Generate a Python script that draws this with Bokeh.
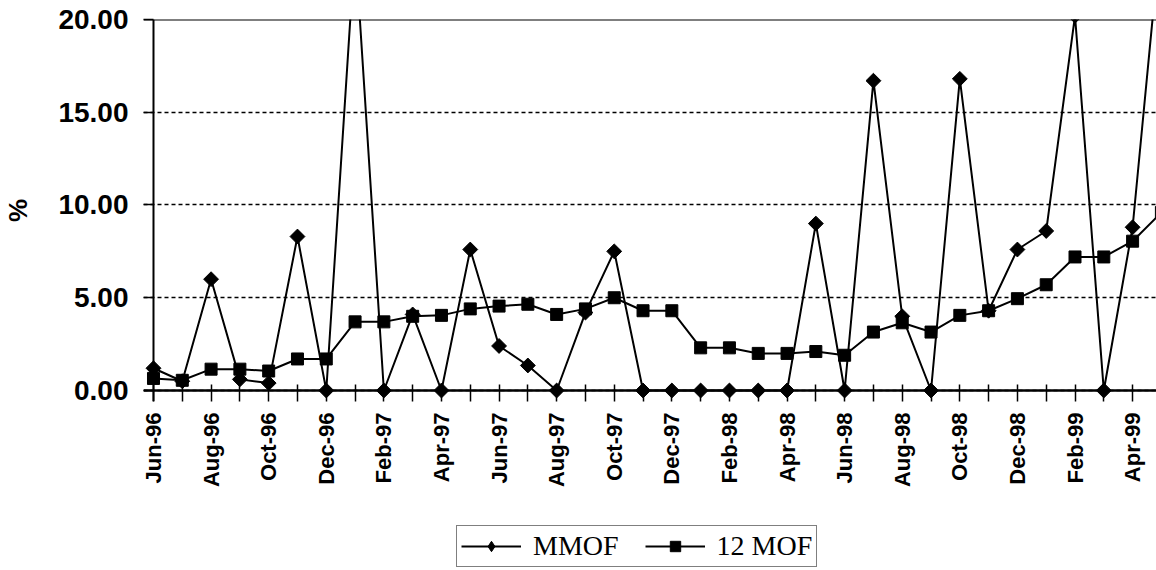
import numpy as np
from bokeh.plotting import figure
from bokeh.layouts import column
from bokeh.models import Range1d, FixedTicker, Span, Legend, LegendItem, PrintfTickFormatter
from bokeh.embed import file_html
from bokeh.resources import INLINE

months = ["Jun-96", "Jul-96", "Aug-96", "Sep-96", "Oct-96", "Nov-96", "Dec-96",
          "Jan-97", "Feb-97", "Mar-97", "Apr-97", "May-97", "Jun-97", "Jul-97",
          "Aug-97", "Sep-97", "Oct-97", "Nov-97", "Dec-97", "Jan-98", "Feb-98",
          "Mar-98", "Apr-98", "May-98", "Jun-98", "Jul-98", "Aug-98", "Sep-98",
          "Oct-98", "Nov-98", "Dec-98", "Jan-99", "Feb-99", "Mar-99", "Apr-99",
          "May-99"]

mmof = [1.2, 0.5, 6.0, 0.6, 0.4, 8.3, 0.0, 24.0, 0.0, 4.1, 0.0, 7.6,
        2.4, 1.35, 0.0, 4.2, 7.5, 0.0, 0.0, 0.0, 0.0, 0.0, 0.0, 9.0,
        0.0, 16.7, 4.0, 0.0, 16.8, 4.3, 7.6, 8.6, 20.2, 0.0, 8.8, 25.0]

mof12 = [0.65, 0.55, 1.15, 1.15, 1.05, 1.7, 1.7, 3.7, 3.7, 4.0, 4.05, 4.4,
         4.55, 4.65, 4.1, 4.4, 5.0, 4.3, 4.3, 2.3, 2.3, 2.0, 2.0, 2.1,
         1.9, 3.15, 3.65, 3.15, 4.05, 4.3, 4.95, 5.7, 7.2, 7.2, 8.05, 9.6]

series_names = ["MMOF", "12 MOF"]
y_ticks = [0, 5, 10, 15, 20]

x = list(range(len(months)))

# ---------------- main chart ----------------
p = figure(width=1156, height=500, output_backend="svg", toolbar_location=None,
           x_range=Range1d(-0.347, 34.83), y_range=Range1d(-0.593, 20),
           min_border_left=143, min_border_right=0, min_border_top=19,
           min_border_bottom=99)
p.outline_line_color = None
p.background_fill_color = "white"
p.border_fill_color = "white"

p.xgrid.visible = False
p.ygrid.grid_line_color = "black"
p.ygrid.grid_line_dash = "4 3"
p.ygrid.grid_line_width = 1.5


def draw_series(fig, legend_mode=False):
    a = fig.line(x, mmof, line_color="black", line_width=2)
    if legend_mode:
        b = fig.scatter(x, mmof, marker="diamond", size=12,
                        fill_color="black", line_color="black")
    else:
        b = fig.scatter(x, mmof, marker="square", angle=np.pi / 4, size=10.5,
                        fill_color="black", line_color="black")
    c = fig.line(x, mof12, line_color="black", line_width=2)
    d = fig.scatter(x, mof12, marker="square", size=12,
                    fill_color="black", line_color="black")
    return a, b, c, d


draw_series(p)

xa = p.xaxis[0]
xa.ticker = FixedTicker(ticks=x[::2], minor_ticks=x[1::2])
xa.major_label_overrides = {i: months[i] for i in x[::2]}
xa.major_label_orientation = np.pi / 2
xa.axis_line_color = None
xa.major_tick_in = 17
xa.major_tick_out = 0
xa.minor_tick_in = 17
xa.minor_tick_out = 0
xa.major_tick_line_color = "black"
xa.minor_tick_line_color = "black"
xa.major_tick_line_width = 1.5
xa.minor_tick_line_width = 1.5
xa.major_label_standoff = 11
xa.major_label_text_font = "Liberation Sans"
xa.major_label_text_font_size = "22px"
xa.major_label_text_font_style = "bold"
xa.major_label_text_color = "black"

ya = p.yaxis[0]
ya.ticker = FixedTicker(ticks=y_ticks)
ya.formatter = PrintfTickFormatter(format="%.2f")
ya.axis_line_color = None
ya.major_tick_in = 10
ya.major_tick_out = 0
ya.major_tick_line_color = "black"
ya.major_tick_line_width = 1.5
ya.minor_tick_line_color = None
ya.major_label_standoff = 15
ya.major_label_text_font = "Liberation Sans"
ya.major_label_text_font_size = "28px"
ya.major_label_text_font_style = "bold"
ya.major_label_text_color = "black"
ya.axis_label = "%"
ya.axis_label_text_font = "Liberation Sans"
ya.axis_label_text_font_size = "26px"
ya.axis_label_text_font_style = "bold"
ya.axis_label_text_color = "black"
ya.axis_label_standoff = 22

p.add_layout(Span(location=0, dimension="height", line_color="black", line_width=2))
p.add_layout(Span(location=0, dimension="width", line_color="black", line_width=2.5))
p.add_layout(Span(location=20, dimension="width", line_color="black", line_width=2))

# ---------------- legend strip ----------------
q = figure(width=1156, height=70, output_backend="svg", toolbar_location=None,
           x_range=Range1d(1000, 1001), y_range=Range1d(1000, 1001),
           x_axis_location=None, y_axis_location=None,
           min_border_left=0, min_border_right=0, min_border_top=0,
           min_border_bottom=0)
q.outline_line_color = None
q.xgrid.visible = False
q.ygrid.visible = False
q.background_fill_color = "white"
q.border_fill_color = "white"
la, lb, lc, ld = draw_series(q, legend_mode=True)

legend = Legend(items=[LegendItem(label=series_names[0], renderers=[la, lb]),
                       LegendItem(label=series_names[1], renderers=[lc, ld])],
                orientation="horizontal", location=(313, 3))
legend.label_text_font = "Liberation Serif"
legend.label_text_font_size = "28px"
legend.label_text_color = "black"
legend.label_text_baseline = "middle"
legend.glyph_width = 60
legend.glyph_height = 26
legend.label_height = 26
legend.label_standoff = 12
legend.spacing = 26
legend.padding = 4
legend.margin = 0
legend.border_line_color = "black"
legend.border_line_width = 1.5
legend.background_fill_color = "white"
legend.background_fill_alpha = 1.0
q.add_layout(legend)

layout = column(p, q, spacing=0)
open("out.html", "w").write(file_html(layout, INLINE))
